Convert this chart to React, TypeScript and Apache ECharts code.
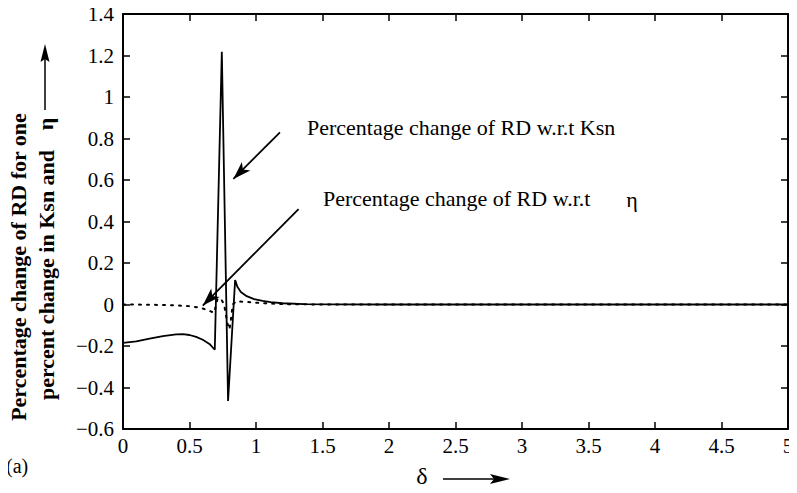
import React, { useEffect, useRef } from "react";
import * as echarts from "echarts";

// Percentage change of RD w.r.t Ksn (solid)
const ksnX = [0, 0.1, 0.2, 0.3, 0.4, 0.45, 0.5, 0.55, 0.6, 0.65, 0.69, 0.743, 0.79, 0.843, 0.86, 0.886, 0.93, 0.986, 1.05, 1.11, 1.2, 1.36, 1.6, 2, 3, 4, 5];
const ksnY = [-0.185, -0.178, -0.165, -0.152, -0.144, -0.143, -0.147, -0.156, -0.17, -0.19, -0.218, 1.218, -0.465, 0.118, 0.085, 0.06, 0.04, 0.026, 0.017, 0.011, 0.006, 0.002, 0.001, 0, 0, 0, 0];

// Percentage change of RD w.r.t eta (dotted)
const etaX = [0, 0.2, 0.4, 0.5, 0.58, 0.64, 0.685, 0.71, 0.735, 0.76, 0.785, 0.8, 0.81, 0.825, 0.85, 0.94, 1.06, 1.2, 1.5, 2, 3, 4, 5];
const etaY = [0, -0.001, -0.004, -0.008, -0.015, -0.028, -0.04, 0.025, 0.03, 0, -0.09, -0.12, -0.08, 0, 0.015, 0.012, 0.006, 0.002, 0, 0, 0, 0, 0];

// annotation arrows [startX, startY, endX, endY] in data units
const arrowKsn = [1.18, 0.83, 0.83, 0.605];
const arrowEta = [1.32, 0.46, 0.6, -0.005];

const xMin = 0, xMax = 5, xStep = 0.5;
const yMin = -0.6, yMax = 1.4, yStep = 0.2;

const FAMILY = "Liberation Serif";
const FONT = "'Liberation Serif', serif";

export default function App() {
  const ref = useRef<HTMLDivElement>(null);
  useEffect(() => {
    if (!ref.current) return;
    const chart = echarts.init(ref.current, undefined, { renderer: "svg" });
    const pair = (xs: number[], ys: number[]) => xs.map((x, i) => [x, ys[i]]);
    const axisCommon = {
      type: "value" as const,
      axisLine: { show: true, onZero: false, lineStyle: { color: "#000", width: 2 } },
      axisTick: { show: true, inside: true, length: 7, lineStyle: { color: "#000", width: 1.5 } },
      splitLine: { show: false },
    };
    const arrowItem = (a: number[]) => [
      { coord: [a[0], a[1]], symbol: "none" },
      { coord: [a[2], a[3]], symbol: "arrow", symbolSize: [9, 18] },
    ];
    chart.setOption({
      animation: false,
      backgroundColor: "#fff",
      grid: { left: 123, right: 9, top: 14, bottom: 64, containLabel: false },
      xAxis: [
        {
          ...axisCommon,
          position: "bottom",
          min: xMin, max: xMax, interval: xStep,
          axisLabel: { color: "#000", fontFamily: FAMILY, fontSize: 21, margin: 6 },
        },
        {
          ...axisCommon,
          position: "top",
          min: xMin, max: xMax, interval: xStep,
          axisLabel: { show: false },
        },
      ],
      yAxis: [
        {
          ...axisCommon,
          position: "left",
          min: yMin, max: yMax, interval: yStep,
          axisLabel: {
            color: "#000", fontFamily: FAMILY, fontSize: 21, margin: 9,
            formatter: (v: number) => String(Math.round(v * 10) / 10).replace("-", "\u2212"),
          },
        },
        {
          ...axisCommon,
          position: "right",
          min: yMin, max: yMax, interval: yStep,
          axisLabel: { show: false },
        },
      ],
      series: [
        {
          name: "Percentage change of RD w.r.t Ksn",
          type: "line",
          data: pair(ksnX, ksnY),
          symbol: "none",
          lineStyle: { color: "#000", width: 1.8 },
          z: 3,
          markLine: {
            silent: true,
            symbol: ["none", "arrow"],
            label: { show: false },
            lineStyle: { color: "#000", width: 1.8, type: "solid" },
            emphasis: { disabled: true },
            data: [arrowItem(arrowKsn), arrowItem(arrowEta)],
          },
        },
        {
          name: "Percentage change of RD w.r.t η",
          type: "line",
          data: pair(etaX, etaY),
          symbol: "none",
          lineStyle: { color: "#000", width: 2, type: [2, 6], cap: "round" },
          z: 2,
        },
      ],
      graphic: [
        {
          type: "text", x: 307, y: 127,
          style: { text: "Percentage change of RD w.r.t Ksn", font: `22px ${FONT}`, fill: "#000", textAlign: "left", textVerticalAlign: "middle" },
        },
        {
          type: "text", x: 323, y: 198,
          style: { text: "Percentage change of RD w.r.t", font: `22px ${FONT}`, fill: "#000", textAlign: "left", textVerticalAlign: "middle" },
        },
        {
          type: "text", x: 632, y: 199,
          style: { text: "η", font: `22px ${FONT}`, fill: "#000", textAlign: "center", textVerticalAlign: "middle" },
        },
        {
          type: "text", x: 18, y: 267, rotation: Math.PI / 2,
          style: { text: "Percentage change of RD for one", font: `bold 22px ${FONT}`, fill: "#000", textAlign: "center", textVerticalAlign: "middle" },
        },
        {
          type: "text", x: 46, y: 275, rotation: Math.PI / 2,
          style: { text: "percent change in Ksn and", font: `bold 22px ${FONT}`, fill: "#000", textAlign: "center", textVerticalAlign: "middle" },
        },
        {
          type: "text", x: 45, y: 124, rotation: Math.PI / 2,
          style: { text: "η", font: `bold 22px ${FONT}`, fill: "#000", textAlign: "center", textVerticalAlign: "middle" },
        },
        { type: "line", shape: { x1: 45, y1: 110, x2: 45, y2: 58 }, style: { stroke: "#000", lineWidth: 1.5 } },
        { type: "polygon", shape: { points: [[45, 44], [49.5, 62], [45, 59], [40.5, 62]] }, style: { fill: "#000" } },
        {
          type: "text", x: 422, y: 476,
          style: { text: "δ", font: `24px ${FONT}`, fill: "#000", textAlign: "center", textVerticalAlign: "middle" },
        },
        { type: "line", shape: { x1: 443, y1: 479, x2: 495, y2: 479 }, style: { stroke: "#000", lineWidth: 1.5 } },
        { type: "polygon", shape: { points: [[510, 479], [490, 474], [494, 479], [490, 484]] }, style: { fill: "#000" } },
        {
          type: "text", x: 6, y: 466,
          style: { text: "(a)", font: `20px ${FONT}`, fill: "#000", textAlign: "left", textVerticalAlign: "middle" },
        },
      ],
    });
    return () => chart.dispose();
  }, []);
  return <div ref={ref} style={{ width: 797, height: 493, margin: -8 }} />;
}
